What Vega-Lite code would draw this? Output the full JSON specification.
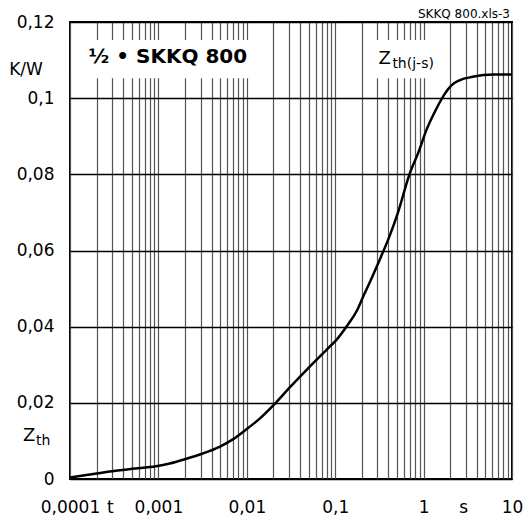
{
  "$schema": "https://vega.github.io/schema/vega-lite/v6.json",
  "width": 442,
  "height": 457,
  "autosize": {"type": "none"},
  "padding": {"left": 70, "top": 22, "right": 15, "bottom": 45},
  "background": "white",
  "config": {
    "font": "DejaVu Sans",
    "view": {"stroke": "#000", "strokeWidth": 2}
  },
  "datasets": {
    "curve": [
      {"t": 0.0001, "z": 0.0004},
      {"t": 0.0002, "z": 0.00144},
      {"t": 0.0003, "z": 0.00205},
      {"t": 0.0005, "z": 0.00268},
      {"t": 0.00094, "z": 0.00336},
      {"t": 0.00134, "z": 0.00407},
      {"t": 0.00206, "z": 0.0053},
      {"t": 0.00318, "z": 0.0067},
      {"t": 0.00491, "z": 0.00845},
      {"t": 0.00695, "z": 0.0104},
      {"t": 0.00985, "z": 0.013},
      {"t": 0.0139, "z": 0.0158},
      {"t": 0.02085, "z": 0.0198},
      {"t": 0.0308, "z": 0.0241},
      {"t": 0.0519, "z": 0.0296},
      {"t": 0.0802, "z": 0.034},
      {"t": 0.104, "z": 0.0366},
      {"t": 0.135, "z": 0.0401},
      {"t": 0.175, "z": 0.0441},
      {"t": 0.208, "z": 0.048},
      {"t": 0.25, "z": 0.052},
      {"t": 0.308, "z": 0.0568},
      {"t": 0.417, "z": 0.0641},
      {"t": 0.518, "z": 0.0703},
      {"t": 0.692, "z": 0.08},
      {"t": 0.871, "z": 0.0857},
      {"t": 1.084, "z": 0.0918},
      {"t": 1.3, "z": 0.0958},
      {"t": 1.514, "z": 0.0988},
      {"t": 1.72, "z": 0.101},
      {"t": 2.05, "z": 0.1033},
      {"t": 2.55, "z": 0.1047},
      {"t": 3.6, "z": 0.1056},
      {"t": 6.07, "z": 0.1062},
      {"t": 10, "z": 0.1062}
    ],
    "one": [{}]
  },
  "layer": [
    {
      "data": {"name": "curve"},
      "mark": {"type": "line", "color": "#000", "strokeWidth": 2.5, "interpolate": "monotone"},
      "encoding": {
        "x": {
          "field": "t", "type": "quantitative",
          "scale": {"type": "log", "domain": [0.0001, 10], "nice": false},
          "axis": {
            "title": null,
            "values": [0.0001, 0.0002, 0.000283, 0.0003, 0.0004, 0.0005, 0.0006, 0.0007, 0.0008, 0.0009,
                       0.001, 0.002, 0.003, 0.004, 0.005, 0.006, 0.007, 0.008, 0.009,
                       0.01, 0.02, 0.03, 0.04, 0.05, 0.06, 0.07, 0.08, 0.09,
                       0.1, 0.2, 0.3, 0.4, 0.5, 0.6, 0.7, 0.8, 0.9,
                       1, 2, 2.8, 3, 4, 5, 6, 7, 8, 9, 10],
            "labelExpr": "datum.value == 0.000283 ? 't' : datum.value == 2.8 ? 's' : (abs(log(datum.value)/LN10 - round(log(datum.value)/LN10)) < 0.000001 ? replace(format(datum.value, '~f'), '.', ',') : '')",
            "grid": true,
            "gridColor": "#555",
            "gridWidth": 1.2,
            "gridOpacity": {"condition": {"test": "datum.value == 0.000283 || datum.value == 2.8", "value": 0}, "value": 1},
            "ticks": false,
            "domain": false,
            "labelOverlap": false,
            "labelFlush": false,
            "labelBound": false,
            "labelPadding": 20,
            "labelFontSize": 17,
            "labelColor": "#000"
          }
        },
        "y": {
          "field": "z", "type": "quantitative",
          "scale": {"domain": [0, 0.12], "nice": false, "zero": false},
          "axis": {
            "title": null,
            "values": [0, 0.02, 0.04, 0.06, 0.08, 0.1, 0.12],
            "labelExpr": "replace(format(datum.value, '.2~f'), '.', ',')",
            "grid": true,
            "gridColor": "#000",
            "gridWidth": 1.3,
            "ticks": false,
            "domain": false,
            "labelPadding": 16,
            "labelFontSize": 17,
            "labelColor": "#000"
          }
        }
      }
    },
    {
      "data": {"name": "one"},
      "mark": {"type": "rect", "fill": "white"},
      "encoding": {
        "x": {"datum": 0.000104, "type": "quantitative"},
        "x2": {"datum": 0.0122},
        "y": {"datum": 0.1052, "type": "quantitative"},
        "y2": {"datum": 0.1153}
      }
    },
    {
      "data": {"name": "one"},
      "mark": {"type": "rect", "fill": "white"},
      "encoding": {
        "x": {"datum": 0.245, "type": "quantitative"},
        "x2": {"datum": 1.107},
        "y": {"datum": 0.1052, "type": "quantitative"},
        "y2": {"datum": 0.1153}
      }
    },
    {
      "data": {"name": "one"},
      "mark": {"type": "text", "fontSize": 20, "fontWeight": "bold", "align": "center", "baseline": "middle", "fill": "#000"},
      "encoding": {
        "x": {"datum": 0.00128, "type": "quantitative"},
        "y": {"datum": 0.1109, "type": "quantitative"},
        "text": {"value": "½ • SKKQ 800"}
      }
    },
    {
      "data": {"name": "one"},
      "mark": {"type": "text", "fontSize": 18, "align": "left", "baseline": "middle", "fill": "#000", "dx": 1},
      "encoding": {
        "x": {"datum": 0.3, "type": "quantitative"},
        "y": {"datum": 0.1102, "type": "quantitative"},
        "text": {"value": "Z"}
      }
    },
    {
      "data": {"name": "one"},
      "mark": {"type": "text", "fontSize": 14, "align": "left", "baseline": "middle", "fill": "#000", "dx": 15, "dy": 5},
      "encoding": {
        "x": {"datum": 0.3, "type": "quantitative"},
        "y": {"datum": 0.1102, "type": "quantitative"},
        "text": {"value": "th(j-s)"}
      }
    },
    {
      "data": {"name": "one"},
      "mark": {"type": "text", "fontSize": 17, "align": "center", "baseline": "middle", "fill": "#000", "dx": -44},
      "encoding": {
        "x": {"datum": 0.0001, "type": "quantitative"},
        "y": {"datum": 0.1075, "type": "quantitative"},
        "text": {"value": "K/W"}
      }
    },
    {
      "data": {"name": "one"},
      "mark": {"type": "text", "fontSize": 18, "align": "left", "baseline": "middle", "fill": "#000", "dx": -47},
      "encoding": {
        "x": {"datum": 0.0001, "type": "quantitative"},
        "y": {"datum": 0.0113, "type": "quantitative"},
        "text": {"value": "Z"}
      }
    },
    {
      "data": {"name": "one"},
      "mark": {"type": "text", "fontSize": 14, "align": "left", "baseline": "middle", "fill": "#000", "dx": -34, "dy": 5},
      "encoding": {
        "x": {"datum": 0.0001, "type": "quantitative"},
        "y": {"datum": 0.0113, "type": "quantitative"},
        "text": {"value": "th"}
      }
    },
    {
      "data": {"name": "one"},
      "mark": {"type": "text", "fontSize": 12, "align": "right", "baseline": "middle", "fill": "#000", "dx": -2, "dy": -8},
      "encoding": {
        "x": {"datum": 10, "type": "quantitative"},
        "y": {"datum": 0.12, "type": "quantitative"},
        "text": {"value": "SKKQ 800.xls-3"}
      }
    }
  ]
}
